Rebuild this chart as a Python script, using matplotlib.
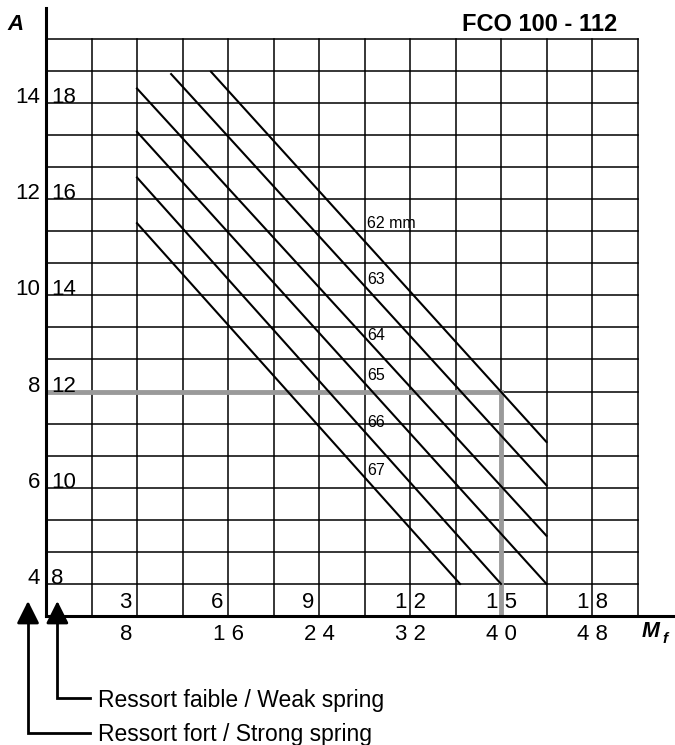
import numpy as np
import matplotlib
matplotlib.use("Agg")
from matplotlib import pyplot as plt

plt.rcParams['font.family'] = ['Liberation Sans', 'DejaVu Sans']

# spring length curves (mm): start / end points read in (Mf strong, A strong)
sizes = ["62 mm", "63", "64", "65", "66", "67"]
mf_start = [14.5, 11.0, 8.0, 8.0, 8.0, 8.0]
a_start = [14.65, 14.6, 14.3, 13.4, 12.45, 11.5]
mf_end = [44.0, 44.0, 44.0, 44.0, 40.0, 36.4]
a_end = [6.95, 6.05, 5.0, 4.0, 4.0, 4.0]
label_a = [11.5, 10.33, 9.17, 8.34, 7.35, 6.35]

# axis labels: strong spring / weak spring
a_strong = [4, 6, 8, 10, 12, 14]
a_weak = [8, 10, 12, 14, 16, 18]
mf_strong = [8, 16, 24, 32, 40, 48]
mf_weak = [3, 6, 9, 12, 15, 18]

# example reading
ex_mf = 40
ex_a = 8

y0 = 10 / 3      # bottom of grid
row = 2 / 3
col = 4

fig = plt.figure(figsize=(6.75, 7.45), dpi=100)
ax = fig.add_axes([46 / 675, 1 - 616 / 745, 627 / 675, 608 / 745])
ax.set_xlim(0, 55.12)
ax.set_ylim(y0, y0 + 608 / 48.1 * 1.0)
ax.set_xticks([])
ax.set_yticks([])
for s in ['top', 'right']:
    ax.spines[s].set_visible(False)
for s in ['left', 'bottom']:
    ax.spines[s].set_linewidth(2.2)
    ax.spines[s].set_zorder(5)

# grid
x_top = 13 * col
y_top = y0 + 18 * row
for k in range(1, 14):
    ax.plot([k * col, k * col], [y0, y_top], color='black', lw=1.1, zorder=1)
for j in range(1, 19):
    ax.plot([0, x_top], [y0 + j * row] * 2, color='black', lw=1.1, zorder=1)

# example reading in grey
ax.plot([0, ex_mf, ex_mf], [ex_a, ex_a, y0], color='#9a9a9a', lw=3.5,
        solid_joinstyle='miter', zorder=2)

# curves
for i in range(len(sizes)):
    ax.plot([mf_start[i], mf_end[i]], [a_start[i], a_end[i]],
            color='black', lw=1.5, zorder=3)
    ax.text(28.2, label_a[i], sizes[i], fontsize=11.5, ha='left',
            va='center', zorder=4)

fs = 16
dx = 6 / 11.375
for a, w in zip(a_strong, a_weak):
    ax.text(-dx, a, str(a), fontsize=fs, ha='right', va='baseline',
            clip_on=False)
    ax.text(0.45, a, str(w), fontsize=fs, ha='left', va='baseline')


def mf_label(x, y, v, va):
    s = str(v)
    if len(s) == 1:
        ax.text(x - 0.45, y, s, fontsize=fs, ha='right', va=va, clip_on=False)
    else:
        ax.text(x, y, " ".join(s), fontsize=fs, ha='center', va=va,
                clip_on=False)


for m, w in zip(mf_strong, mf_weak):
    mf_label(m, y0 - 8 / 48.1, m, 'top')
    mf_label(m, y0 + 8 / 48.1, w, 'baseline')

ax.text(50.2, y_top + 7.5 / 48.1, "FCO 100 - 112", fontsize=17,
        fontweight='bold', ha='right', va='baseline')
ax.text(-2.64, y_top + 14.5 / 48.1, "A", fontsize=16, fontweight='bold',
        fontstyle='italic', ha='center', va='center', clip_on=False)
ax.text(52.4, y0 - 21 / 48.1, "M", fontsize=15.5, fontweight='bold',
        fontstyle='italic', ha='left', va='baseline', clip_on=False)
ax.text(54.2, y0 - 27 / 48.1, "f", fontsize=11, fontweight='bold',
        fontstyle='italic', ha='left', va='baseline', clip_on=False)

# spring type arrows
springs = ["Ressort faible / Weak spring", "Ressort fort / Strong spring"]
arrow_x = [1.0, -1.58]
arrow_y = [y0 - 82 / 48.1, y0 - 117 / 48.1]
for name, x, y in zip(springs, arrow_x, arrow_y):
    ax.plot([x, x, 3.87], [y0, y, y], color='black', lw=2.0,
            solid_joinstyle='miter', clip_on=False)
    ax.annotate('', xy=(x, y0 + 15 / 48.1), xytext=(x, y0 - 4 / 48.1),
                arrowprops=dict(arrowstyle='-|>', mutation_scale=34,
                                color='black', lw=2.0, shrinkA=0, shrinkB=0),
                annotation_clip=False)
    ax.text(4.57, y - 8.5 / 48.1, name, fontsize=16.5, ha='left',
            va='baseline', clip_on=False)

fig.savefig("out.png", dpi=100)
